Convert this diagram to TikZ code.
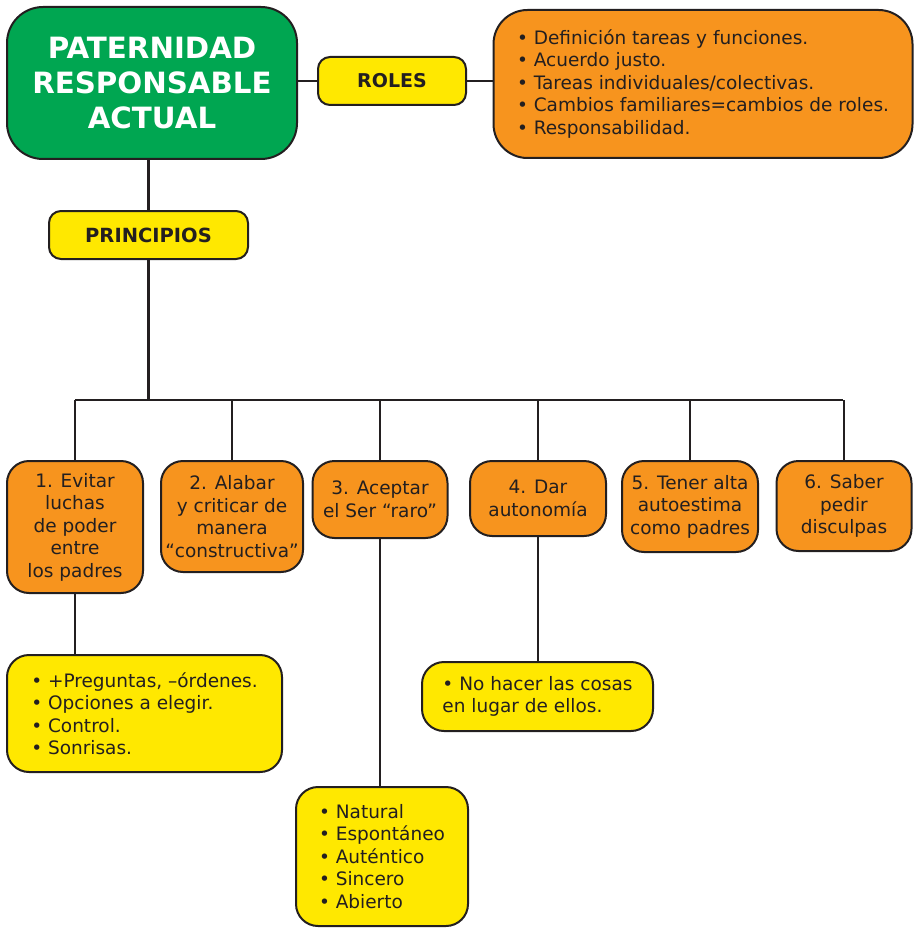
\documentclass[tikz,border=0pt]{standalone}
\usepackage{fontspec}
\setmainfont{DejaVu Sans}
\usetikzlibrary{arrows.meta}
\definecolor{verde}{HTML}{00A651}
\definecolor{naranja}{HTML}{F7941E}
\definecolor{amarillo}{HTML}{FFE800}
\definecolor{linea}{HTML}{231F20}

\begin{document}
\begin{tikzpicture}[x=1pt,y=-1pt,
    caja/.style={draw=linea,line width=2pt,rounded corners=22pt,align=center,inner sep=0pt,text=linea,font=\fontsize{18.5}{22.5}\selectfont},
    naranja/.style={caja,fill=naranja},
    amarilla/.style={caja,fill=amarillo},
    lista/.style={align=left}]
%\tikzstyle{bus}=[line width=2pt]
\useasboundingbox (0,0) rectangle (914,928);
\begin{scope}
    \node[caja,fill=verde,rounded corners=36pt,text=white,minimum width=290,minimum height=152,font=\fontsize{29.3}{35}\selectfont\bfseries] (main) at (152,83) {PATERNIDAD\\RESPONSABLE\\ACTUAL};
    \node[amarilla,rounded corners=12pt,minimum width=148,minimum height=48,font=\fontsize{19}{20}\selectfont\bfseries] (roles) at (392,81) {ROLES};
    \node[naranja,lista,rounded corners=34pt,minimum width=419,minimum height=148] (rl) at (703,84) {• Definición tareas y funciones.\\• Acuerdo justo.\\• Tareas individuales/colectivas.\\• Cambios familiares=cambios de roles.\\• Responsabilidad.};
    \node[amarilla,rounded corners=12pt,minimum width=199,minimum height=48,font=\fontsize{19.5}{20}\selectfont\bfseries] (prin) at (148.5,235) {PRINCIPIOS};

    \path [-,draw=linea,line width=2.4pt] (roles.west) edge (roles.west -| main.east);
    \path [-,draw=linea,line width=2.4pt] (roles.east) edge (roles.east -| rl.west);
    \path [-,draw=linea,line width=2.4pt] (prin.north) edge (prin.north |- main.south);
\end{scope}
\begin{scope}
    \node[naranja,minimum width=136,minimum height=132] (p1) at (75,527) {1. Evitar\\luchas\\de poder\\entre\\los padres};
    \node[naranja,minimum width=142,minimum height=111] (p2) at (232,516.5) {2. Alabar\\y criticar de\\manera\\“constructiva”};
    \node[naranja,minimum width=135,minimum height=77] (p3) at (380,499.5) {3. Aceptar\\el Ser “raro”};
    \node[naranja,minimum width=136,minimum height=75] (p4) at (538,498.5) {4. Dar\\autonomía};
    \node[naranja,minimum width=136,minimum height=91] (p5) at (690,506.5) {5. Tener alta\\autoestima\\como padres};
    \node[naranja,minimum width=135,minimum height=90] (p6) at (844,506) {6. Saber\\pedir\\disculpas};

    \coordinate (b1) at (75,400);
    \coordinate (b6) at (843,400);

    \path [-,draw=linea,line width=2.4pt] (b1) edge (b6);
    \path [-,draw=linea,line width=2.4pt] (prin.south) edge (prin.south |- b1);
    \path [-,draw=linea,line width=2.4pt] (p1.north) edge (p1.north |- b1);
    \path [-,draw=linea,line width=2.4pt] (p2.north) edge (p2.north |- b1);
    \path [-,draw=linea,line width=2.4pt] (p3.north) edge (p3.north |- b1);
    \path [-,draw=linea,line width=2.4pt] (p4.north) edge (p4.north |- b1);
    \path [-,draw=linea,line width=2.4pt] (p5.north) edge (p5.north |- b1);
    \path [-,draw=linea,line width=2.4pt] (p6.north) edge (p6.north |- b1);
\end{scope}
\begin{scope}
    \node[amarilla,lista,minimum width=275,minimum height=117] (l1) at (144.5,713.5) {• +Preguntas, –órdenes.\\• Opciones a elegir.\\• Control.\\• Sonrisas.};
    \node[amarilla,lista,minimum width=172,minimum height=139] (l3) at (382,856.5) {• Natural\\• Espontáneo\\• Auténtico\\• Sincero\\• Abierto};
    \node[amarilla,lista,minimum width=231,minimum height=69] (l4) at (537.5,696.5) {• No hacer las cosas\\en lugar de ellos.};

    \path [-,draw=linea,line width=2.4pt] (p1.south) edge (p1.south |- l1.north);
    \path [-,draw=linea,line width=2.4pt] (p3.south) edge (p3.south |- l3.north);
    \path [-,draw=linea,line width=2.4pt] (p4.south) edge (p4.south |- l4.north);
\end{scope}
\end{tikzpicture}
\end{document}
